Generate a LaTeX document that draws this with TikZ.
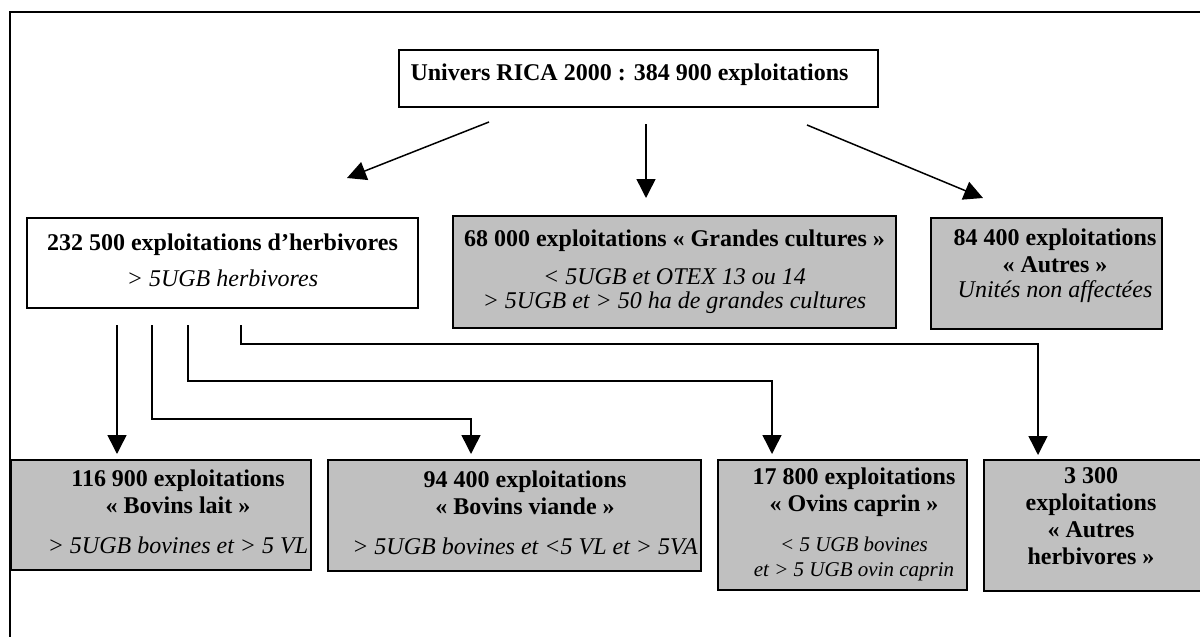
\documentclass[tikz,border=0pt]{standalone}
\usepackage{fontspec}
\setmainfont{Liberation Serif}
\usetikzlibrary{arrows.meta}
\definecolor{grisboite}{HTML}{C0C0C0}
\newcommand{\lignes}[1]{\begin{tabular}{@{}c@{}}#1\end{tabular}}
\newcommand{\petit}[1]{{\fontsize{10.5}{12}\selectfont\textit{#1}}}
\tikzset{
  cadre/.style={line width=1pt},
  boite/.style={draw, line width=1pt, inner sep=0pt, font=\fontsize{12}{13.5}\selectfont},
  blanc/.style={boite, fill=white},
  gris/.style={boite, fill=grisboite},
  fleche/.style={line width=0.75pt, -{Triangle[length=9.5pt,width=9.5pt]}},
}

\begin{document}
\begin{tikzpicture}[x=0.5pt,y=-0.5pt]
		\useasboundingbox (0,0) rectangle (1200,637);
		\clip (0,0) rectangle (1200,637);
		
		% Cadre
		\draw[cadre] (1200,12) -- (10,12) -- (10,637);
		
		% Boites
		\node[blanc, minimum width=239.5pt, minimum height=28.5pt] (univers) at (638.5,78.5)
			{\lignes{\textbf{Univers RICA 2000 : 384 900 exploitations}\\[3.5pt]}\hspace*{9pt}};
		\node[blanc, minimum width=195.5pt, minimum height=45pt] (herbiv) at (222.5,263)
			{\lignes{\textbf{232 500 exploitations d’herbivores}\\[4.5pt] \textit{> 5UGB herbivores}}};
		\node[gris, minimum width=221.5pt, minimum height=56pt] (grandes) at (674.5,272)
			{\lignes{\textbf{68 000 exploitations « Grandes cultures »}\\[5.5pt] \textit{< 5UGB et OTEX 13 ou 14}\\[-1.5pt] \textit{> 5UGB et > 50 ha de grandes cultures}}};
		\node[gris, minimum width=115.5pt, minimum height=55.5pt] (autres) at (1046.5,273.5)
			{\hspace*{8.5pt}\lignes{\textbf{84 400 exploitations}\\ \textbf{« Autres »}\\[-1pt] \textit{Unités non affectées}\\[7pt]}};
		
		\node[gris, minimum width=150pt, minimum height=55pt] (lait) at (161,515)
			{\hspace*{17pt}\lignes{\textbf{116 900 exploitations}\\ \textbf{« Bovins lait »}\\[6.5pt] \textit{> 5UGB bovines et > 5 VL}}};
		\node[gris, minimum width=186.5pt, minimum height=55.5pt] (viande) at (514.5,515.5)
			{\hspace*{10.5pt}\lignes{\textbf{94 400 exploitations}\\ \textbf{« Bovins viande »}\\[6.5pt] \textit{> 5UGB bovines et <5 VL et > 5VA}}};
		\node[gris, minimum width=124.5pt, minimum height=65pt] (ovins) at (842.5,525)
			{\hspace*{11.5pt}\lignes{\textbf{17 800 exploitations}\\ \textbf{« Ovins caprin »}\\[6.5pt] \petit{< 5 UGB bovines}\\[-1pt] \petit{et > 5 UGB ovin caprin}}};
		\node[gris, minimum width=115.5pt, minimum height=65.5pt] (autresh) at (1099.5,525.5)
			{\lignes{\textbf{3 300}\\ \textbf{exploitations}\\ \textbf{« Autres}\\ \textbf{herbivores »}\\[6.5pt]}\hspace*{8.5pt}};
		
		% Fleches du haut
		\coordinate (dg) at (489,122);
		\coordinate (hg) at (347,178);
		\coordinate (dm) at (646,124);
		\coordinate (hm) at (646,198);
		\coordinate (dd) at (807,125);
		\coordinate (hd) at (983,198);
		\draw[fleche] (dg) -- (hg);
		\draw[fleche] (dm) -- (hm);
		\draw[fleche] (dd) -- (hd);
		
		% Fleches du bas
		\coordinate (b1) at (117,325);
		\coordinate (b2) at (152,325);
		\coordinate (b3) at (188,325);
		\coordinate (b4) at (241,325);
		\coordinate (c2) at (471,419);
		\coordinate (c3) at (772,381);
		\coordinate (c4) at (1038,344);
		\draw[fleche, shorten >=2.5pt] (b1) -- (b1 |- lait.north);
		\draw[fleche, shorten >=2.5pt] (b2) |- (c2) -- (c2 |- viande.north);
		\draw[fleche, shorten >=2.5pt] (b3) |- (c3) -- (c3 |- ovins.north);
		\draw[fleche, shorten >=2pt] (b4) |- (c4) -- (c4 |- autresh.north);
		\end{tikzpicture}
\end{document}
